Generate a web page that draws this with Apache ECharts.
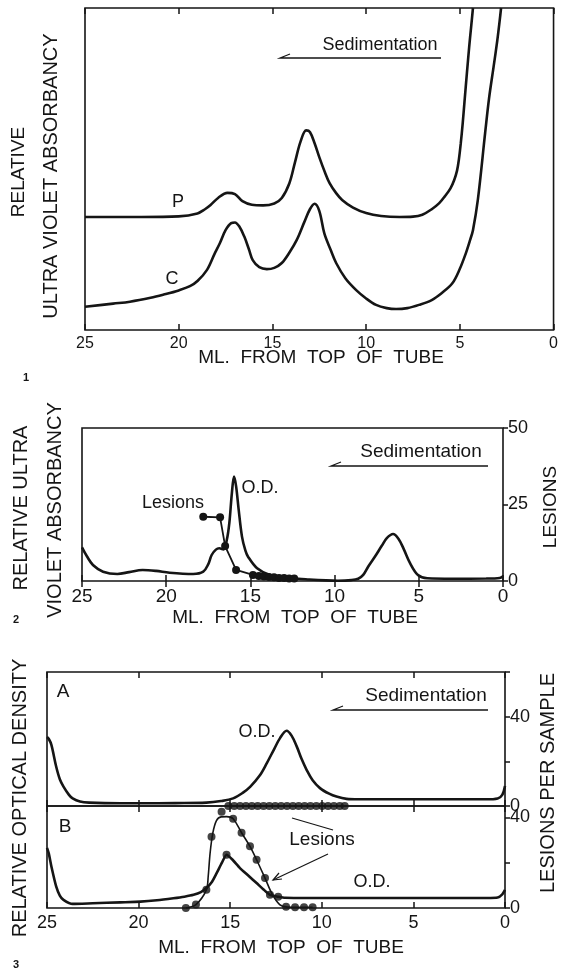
<!DOCTYPE html>
<html>
<head>
<meta charset="utf-8">
<title>Sedimentation profiles</title>
<script src="https://cdn.jsdelivr.net/npm/echarts@6/dist/echarts.min.js"></script>
<style>
    html, body { margin: 0; padding: 0; background: #fff; }
    #main { width: 561px; height: 973px; }
</style>
</head>
<body>
<div id="main"></div>
<script>
// ---- data (x = ml from top of tube, y = relative units) ----

// fig 1 - UV absorbancy, curves P and C (0..100 relative)
const fig1P = [[25, 35.1], [22, 35.1], [20, 35.3], [19, 36.2], [18.6, 37.5], [18.3, 38.8], [17.9, 41], [17.4, 42.6], [17.0, 42.2], [16.6, 40], [16.1, 38.9], [15.5, 38.7], [14.9, 39.3], [14.5, 41], [14.1, 45.5], [13.8, 52], [13.5, 58.5], [13.2, 62], [13.0, 61.5], [12.75, 58], [12.5, 53.7], [12.2, 49], [11.95, 45.6], [11.6, 42.5], [11.28, 40.4], [10.7, 38], [10, 36.3], [9.2, 35.4], [8.2, 35.1], [7.5, 35.2], [7.0, 35.8], [6.5, 37.5], [6.1, 39.4], [5.8, 41.5], [5.5, 44], [5.3, 46.6], [5.15, 49.5], [5.05, 53], [4.95, 58], [4.85, 64], [4.75, 71], [4.62, 80], [4.5, 88], [4.4, 94], [4.3, 100]]
const fig1C = [[25, 7.2], [23.5, 8.2], [22.6, 8.8], [21.5, 10], [20.8, 11], [20, 12.3], [19.4, 13.6], [19, 15.2], [18.5, 18.6], [18.1, 23.5], [17.8, 27], [17.5, 31], [17.2, 33.2], [17.0, 33.4], [16.75, 32], [16.5, 29], [16.25, 25], [16.05, 21.7], [15.7, 19.5], [15.3, 18.9], [14.9, 19.3], [14.5, 20.8], [14.1, 24], [13.7, 28], [13.3, 33.5], [13.0, 37.5], [12.75, 39.2], [12.5, 37], [12.23, 30], [11.9, 25], [11.6, 20.8], [11.1, 16], [10.53, 12.4], [10, 9.8], [9.47, 7.8], [8.9, 6.8], [8.4, 6.5], [7.8, 6.8], [7.18, 7.8], [6.5, 9.3], [5.96, 11.5], [5.4, 14.5], [5.0, 19], [4.7, 23.5], [4.45, 28], [4.3, 31], [4.04, 40.4], [3.65, 61.2], [3.44, 72], [3.2, 81.7], [3.0, 90], [2.87, 96.3], [2.8, 100]]

// fig 2 - UV absorbancy (0..100 relative) and lesions (0..50)
const fig2OD = [[25, 22], [24.7, 16], [24.35, 10.5], [23.75, 6.1], [22.9, 4.6], [22.2, 5.8], [21.4, 7.2], [20.6, 6.6], [19.8, 5.4], [18.4, 4.6], [17.8, 6.1], [17.5, 11], [17.3, 17], [17.05, 20.5], [16.85, 21.4], [16.6, 20.7], [16.4, 27], [16.25, 38], [16.1, 57.5], [15.97, 68.2], [15.85, 62], [15.7, 47], [15.5, 29], [15.3, 20], [15.14, 15.9], [14.6, 8.3], [13.84, 3.9], [12.47, 1.8], [11.5, 1.0], [10.5, 0.4], [9.8, 0.2], [9.0, 0.6], [8.6, 1.5], [8.3, 4], [8.0, 9.5], [7.6, 16], [7.2, 23], [6.9, 28], [6.53, 30.7], [6.2, 27.5], [5.9, 21], [5.52, 11.7], [5.05, 3.9], [4.5, 1.8], [3, 1.5], [1, 1.6], [0.2, 2], [0, 3]]
const fig2Lesions = [[17.8, 21], [16.8, 20.8], [16.5, 11.4], [15.85, 3.6], [14.85, 2], [14.5, 1.6], [14.2, 1.5], [13.9, 1.3], [13.6, 1.2], [13.3, 1.0], [13.0, 1.0], [12.7, 0.8], [12.4, 0.8]]

// fig 3A - O.D. and lesions per sample (0..60)
const fig3aOD = [[25, 30.9], [24.9, 30], [24.76, 27.4], [24.5, 17.7], [24.3, 12], [24.1, 8.7], [23.8, 5], [23.6, 3.4], [23.2, 2], [22.7, 1.5], [21, 1.2], [19.9, 1.2], [18, 1.3], [16.3, 1.5], [15.5, 2.2], [14.84, 3.4], [14.3, 6], [13.9, 8.7], [13.4, 13.5], [13.0, 19.2], [12.6, 25.5], [12.28, 30.4], [11.92, 33.7], [11.65, 31.5], [11.37, 26.7], [11.1, 21], [10.83, 16.2], [10.5, 11.5], [10.1, 8], [9.6, 5.5], [9.2, 4.2], [8.65, 3.2], [8, 3], [4, 3], [1, 3], [0.4, 3.4], [0.15, 5], [0, 9]]
const fig3aLesionsX = [15.1, 14.78, 14.46, 14.14, 13.82, 13.5, 13.18, 12.86, 12.54, 12.22, 11.9, 11.58, 11.26, 10.94, 10.62, 10.3, 9.98, 9.66, 9.34, 9.02, 8.75]
const fig3aLesionsY = [0, 0, 0, 0, 0, 0, 0, 0, 0, 0, 0, 0, 0, 0, 0, 0, 0, 0, 0, 0, 0]

// fig 3B - O.D. and lesions per sample (0..45)
const fig3bOD = [[25, 26.5], [24.9, 24], [24.76, 18.3], [24.5, 9.5], [24.3, 5.5], [24.1, 3.6], [23.6, 1.8], [22.5, 2.1], [21, 2.5], [19.9, 2.8], [19, 3.4], [18.1, 4.3], [17.5, 5], [17.0, 5.8], [16.6, 7], [16.3, 8.8], [16.0, 11.5], [15.74, 15.4], [15.45, 20], [15.2, 23.5], [14.9, 21.5], [14.47, 17.6], [14.0, 14.2], [13.56, 11], [13.2, 8.3], [12.83, 5.8], [12.38, 5], [12.0, 4.5], [10, 4.4], [5, 4.4], [1, 4.4], [0.4, 4.6], [0.15, 6], [0, 8]]
const fig3bODDots = [[15.2, 23.5], [12.83, 5.8], [12.38, 5]]
const fig3bLesionDots = [[17.42, 0], [16.87, 1.5], [16.3, 8], [16.02, 31.4], [15.47, 42.5], [14.84, 39.4], [14.38, 33.2], [13.92, 27.2], [13.56, 21.3], [13.1, 13.2], [11.95, 0.5], [11.46, 0.3], [10.97, 0.3], [10.5, 0.3]]
const fig3bLesionFit = [[17.42, 0], [16.87, 1.5], [16.3, 8], [16.2, 14], [16.1, 24], [15.95, 33], [15.75, 38.5], [15.5, 40.2], [15.2, 40.3], [14.84, 39.4], [14.38, 33.2], [13.92, 27.2], [13.56, 21.3], [13.1, 13.2], [12.7, 6], [12.3, 1.5], [11.95, 0.5], [11.46, 0.3], [10.97, 0.3], [10.5, 0.3]]

// ---- styling helpers ----
const INK = '#151515'
const FONT = 'Liberation Sans, Arial, sans-serif'

// x axis (ml), 25 on the left, 0 on the right
function mlAxis(grid, pos, labelSize) {
    return {
        type: 'value', gridIndex: grid, position: pos,
        min: 0, max: 25, interval: 5, inverse: true,
        axisLine: { show: false },
        axisTick: { show: true, inside: true, length: 6, lineStyle: { color: INK, width: 1.5 } },
        axisLabel: labelSize
            ? { show: true, color: INK, fontSize: labelSize, fontFamily: FONT, margin: 6 }
            : { show: false },
        splitLine: { show: false },
    }
}

// right hand lesion axis
function lesionAxis(grid, max, interval, shown) {
    return {
        type: 'value', gridIndex: grid, position: 'right',
        min: 0, max: max, interval: interval,
        axisLine: { show: false },
        axisTick: { show: true, length: 5, lineStyle: { color: INK, width: 1.5 } },
        axisLabel: {
            color: INK, fontSize: 18, fontFamily: FONT, margin: 5,
            formatter: v => (shown.indexOf(v) > -1 ? String(v) : ''),
        },
        splitLine: { show: false },
    }
}

function hiddenAxis(grid, max) {
    return { type: 'value', gridIndex: grid, min: 0, max: max, show: false, splitLine: { show: false } }
}

function curve(x, y, data, width, smooth) {
    return {
        type: 'line', xAxisIndex: x, yAxisIndex: y, data: data,
        symbol: 'none', smooth: smooth, lineStyle: { color: INK, width: width },
        silent: true, z: 3,
    }
}

function dots(x, y, data) {
    return {
        type: 'scatter', xAxisIndex: x, yAxisIndex: y, data: data,
        symbol: 'circle', symbolSize: 8, itemStyle: { color: INK }, clip: false, z: 4,
    }
}

function txt(x, y, text, size, rot, weight) {
    return {
        type: 'text', x: x, y: y, rotation: rot || 0, z: 10,
        style: {
            text: text, fill: INK, fontSize: size, fontFamily: FONT, fontWeight: weight || 'normal',
            align: 'center', verticalAlign: 'middle',
        },
    }
}

function line(points, w) {
    return { type: 'polyline', z: 10, shape: { points: points }, style: { stroke: INK, lineWidth: w || 1.3, fill: null } }
}

const frame = { show: true, borderColor: INK, borderWidth: 1.6, backgroundColor: 'transparent' }

const option = {
    backgroundColor: '#fff',
    animation: false,
    grid: [
        Object.assign({ left: 85, top: 8, width: 472, height: 322 }, frame),
        Object.assign({ left: 82, top: 428, width: 421, height: 153 }, frame),
        Object.assign({ left: 47, top: 672, width: 458, height: 134 }, frame),
        Object.assign({ left: 47, top: 806, width: 458, height: 102 }, frame),
    ],
    xAxis: [
        mlAxis(0, 'bottom', 16), mlAxis(0, 'top'),
        mlAxis(1, 'bottom', 19), mlAxis(1, 'top'),
        mlAxis(2, 'bottom'), mlAxis(2, 'top'),
        mlAxis(3, 'bottom', 18), mlAxis(3, 'top'),
    ],
    yAxis: [
        hiddenAxis(0, 100),
        hiddenAxis(1, 100),
        lesionAxis(1, 50, 25, [0, 25, 50]),
        lesionAxis(2, 60, 20, [0, 40]),
        lesionAxis(3, 45, 20, [0, 40]),
    ],
    series: [
        // fig 1
        curve(0, 0, fig1P, 2.6, 0.35),
        curve(0, 0, fig1C, 2.6, 0.35),
        // fig 2
        curve(2, 1, fig2OD, 2.6, 0.35),
        {
            type: 'line', xAxisIndex: 2, yAxisIndex: 2, data: fig2Lesions,
            symbol: 'circle', symbolSize: 8, showAllSymbol: true,
            lineStyle: { color: INK, width: 1.8 }, itemStyle: { color: INK }, z: 4,
        },
        // fig 3A
        curve(4, 3, fig3aOD, 2.6, 0.35),
        dots(4, 3, fig3aLesionsX.map((x, i) => [x, fig3aLesionsY[i]])),
        // fig 3B
        curve(6, 4, fig3bOD, 2.6, 0.2),
        dots(6, 4, fig3bODDots),
        curve(6, 4, fig3bLesionFit, 1.6, 0.3),
        dots(6, 4, fig3bLesionDots),
    ],
    graphic: [
        // fig 1 annotations
        txt(19, 172, 'RELATIVE', 19, Math.PI / 2),
        txt(51, 176, 'ULTRA VIOLET ABSORBANCY', 20, Math.PI / 2),
        txt(321, 358, 'ML.  FROM  TOP  OF  TUBE', 19),
        txt(380, 45, 'Sedimentation', 18),
        line([[290, 54], [280, 58], [441, 58]]),
        txt(178, 202, 'P', 18),
        txt(172, 279, 'C', 18),
        txt(26, 378, '1', 11, 0, 'bold'),
        // fig 2 annotations
        txt(21, 508, 'RELATIVE ULTRA', 20, Math.PI / 2),
        txt(55, 510, 'VIOLET ABSORBANCY', 20, Math.PI / 2),
        txt(551, 507, 'LESIONS', 19, Math.PI / 2),
        txt(295, 618, 'ML.  FROM  TOP  OF  TUBE', 19),
        txt(421, 452, 'Sedimentation', 19),
        line([[341, 462], [331, 466], [488, 466]]),
        txt(260, 488, 'O.D.', 18),
        txt(173, 503, 'Lesions', 18),
        txt(16, 620, '2', 11, 0, 'bold'),
        // fig 3 annotations
        txt(20, 798, 'RELATIVE OPTICAL DENSITY', 20, Math.PI / 2),
        txt(548, 783, 'LESIONS PER SAMPLE', 20, Math.PI / 2),
        txt(281, 948, 'ML.  FROM  TOP  OF  TUBE', 19),
        txt(426, 696, 'Sedimentation', 19),
        line([[343, 706], [333, 710], [488, 710]]),
        txt(63, 692, 'A', 19),
        txt(65, 827, 'B', 19),
        txt(257, 732, 'O.D.', 18),
        txt(322, 840, 'Lesions', 19),
        txt(372, 882, 'O.D.', 18),
        line([[292, 818], [333, 830]], 1.2),
        line([[328, 854], [273, 880]], 1.2),
        line([[279, 873], [273, 880], [282, 879]], 1.2),
        txt(16, 965, '3', 11, 0, 'bold'),
    ],
}

const chart = echarts.init(document.getElementById('main'), null, { renderer: 'canvas' })
chart.setOption(option)
</script>
</body>
</html>
